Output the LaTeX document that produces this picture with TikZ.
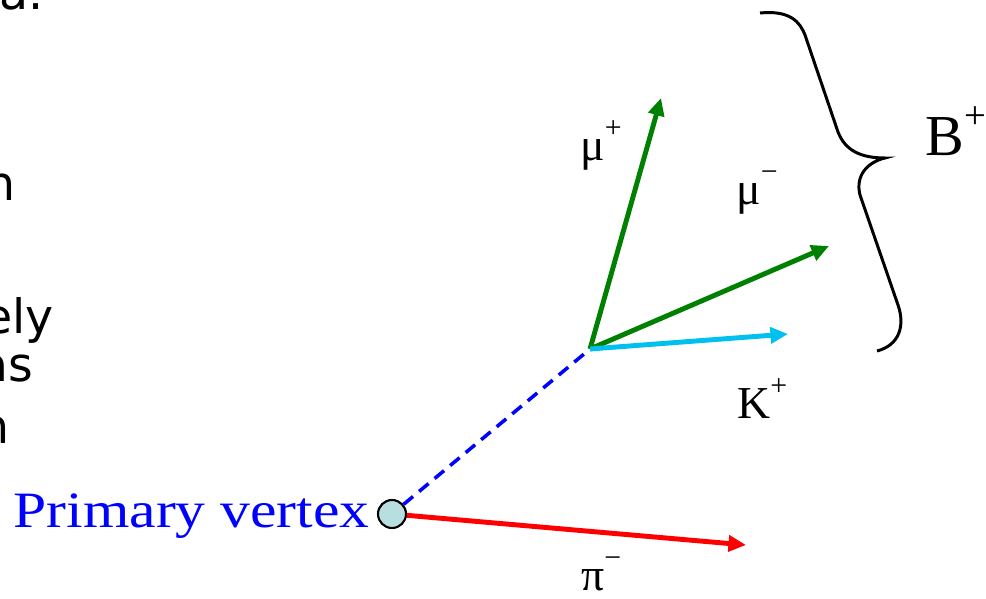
\documentclass[tikz,border=0pt]{standalone}
\usepackage{fontspec}
\setmainfont{Liberation Serif}
\newfontfamily\slidefont{DejaVu Sans}
\usetikzlibrary{arrows.meta}

\definecolor{trkgreen}{HTML}{008000}
\definecolor{trkcyan}{HTML}{00C0F0}
\definecolor{vtxfill}{HTML}{B8DFE0}

\tikzset{
	track/.style={line width=2.8pt, -{Triangle[length=10pt,width=9pt]}},
	flight/.style={blue, line width=2pt, dash pattern=on 7pt off 4.5pt},
	particle/.style={inner sep=0pt, font=\fontsize{26}{30}\selectfont},
	frag/.style={inner sep=0pt, anchor=base east, font=\slidefont\fontsize{27}{30}\selectfont},
}
\newcommand{\chg}[1]{\raisebox{0.5em}{\fontsize{17}{17}\selectfont #1}}

\begin{document}
\begin{tikzpicture}[x=0.02cm,y=-0.02cm]
	\useasboundingbox (0,0) rectangle (986,598);

	% leftover words of the slide text, cut by the frame
	\begin{scope}
		\clip (0,0) rectangle (986,598);
		\node[frag] (fa) at (44,10) {a.};
		\node[frag] (fb) at (16,200) {n};
		\node[frag] (fc) at (54,333) {ely};
		\node[frag] (fd) at (34,381) {as};
		\node[frag] (fe) at (10,443) {n};
	\end{scope}

	% vertices
	\node[circle, draw, line width=1.2pt, fill=vtxfill, minimum size=0.56cm, inner sep=0pt] (pv) at (392,514) {};
	\coordinate (dv) at (590,349);
	\node[anchor=east, inner sep=0pt, blue, xscale=1.17, font=\fontsize{29}{32}\selectfont] (pvlabel) at (370,516) {Primary vertex};

	% track ends
	\coordinate (mup) at (661,98);
	\coordinate (mum) at (829,246);
	\coordinate (kp) at (788,334);
	\coordinate (pim) at (746,545);

	\draw[flight] (pv) -- (dv);
	\draw[track, trkgreen] (dv) -- (mup);
	\draw[track, trkgreen] (dv) -- (mum);
	\draw[track, trkcyan] (dv) -- (kp);
	\draw[track, red] (pv) -- (pim);

	% particle names
	\node[particle, anchor=base west] (lmup) at (580,160) {μ\chg{+}};
	\node[particle, anchor=base west] (lmum) at (736,204) {μ\chg{−}};
	\node[particle, anchor=base west] (lkp) at (737,418) {K\chg{+}};
	\node[particle, anchor=base west] (lpim) at (581,590) {π\chg{−}};

	% brace round the B daughters
	\draw[line width=1.7pt] (760,13) .. controls (790,10) and (800,22) .. (805,35)
		-- (838,132) .. controls (845,150) and (860,158) .. (885,158)
		.. controls (868,162) and (855,175) .. (860,195)
		-- (898,305) .. controls (905,325) and (900,345) .. (877,351);
	\node[anchor=base west, inner sep=0pt, font=\fontsize{33}{36}\selectfont] (lbp) at (925,155) {B\raisebox{0.45em}{\fontsize{22}{22}\selectfont +}};
\end{tikzpicture}
\end{document}
